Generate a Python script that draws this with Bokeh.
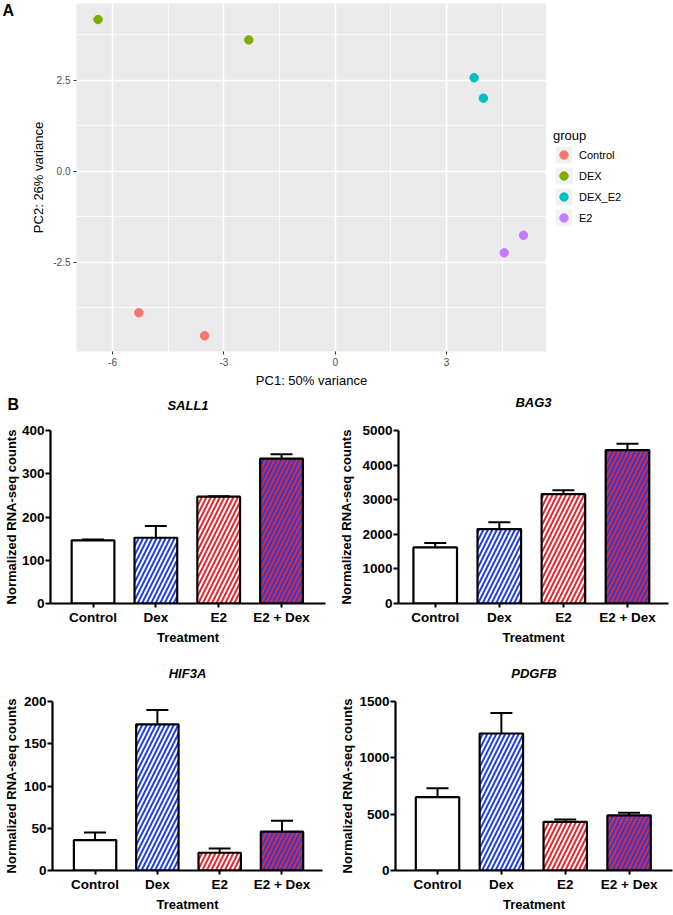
from bokeh.plotting import figure
from bokeh.models import (Range1d, FixedTicker, Legend, LegendItem, Label,
                          ColumnDataSource, Whisker, TeeHead)
from bokeh.layouts import column, row
from bokeh.embed import file_html
from bokeh.resources import INLINE

# ---------------- Panel A data (PCA) ----------------
groups = ["Control", "DEX", "DEX_E2", "E2"]
group_colors = ["#F8766D", "#7CAE00", "#00BFC4", "#C77CFF"]
pc1_control = [-5.29, -3.52]
pc2_control = [-3.89, -4.52]
pc1_dex = [-6.39, -2.33]
pc2_dex = [4.17, 3.61]
pc1_dex_e2 = [3.74, 3.99]
pc2_dex_e2 = [2.57, 2.01]
pc1_e2 = [5.07, 4.55]
pc2_e2 = [-1.76, -2.24]
xA_ticks = [-6, -3, 0, 3]
xA_labels = ["-6", "-3", "0", "3"]
yA_ticks = [-2.5, 0, 2.5]
yA_labels = ["-2.5", "0.0", "2.5"]

# ---------------- Panel B data (bar charts) ----------------
treatments = ["Control", "Dex", "E2", "E2 + Dex"]
sall1_mean = [146, 152, 247, 335]
sall1_sem = [2, 27, 1, 10]
bag3_mean = [1620, 2150, 3160, 4435]
bag3_sem = [125, 195, 115, 180]
hif3a_mean = [36, 173, 21, 46]
hif3a_sem = [9, 17, 5, 13]
pdgfb_mean = [651, 1216, 432, 490]
pdgfb_sem = [78, 182, 20, 23]
sall1_ticks = [0, 100, 200, 300, 400]
bag3_ticks = [0, 1000, 2000, 3000, 4000, 5000]
hif3a_ticks = [0, 50, 100, 150, 200]
pdgfb_ticks = [0, 500, 1000, 1500]

# bar styles
BLUE = "#2040E6"
RED = "#E8262E"
bar_fill = ["white", BLUE, "white", BLUE]
bar_hatch = [" ", "/", "/", "/"]
bar_hatch_color = ["white", "white", RED, RED]

FONT = "Liberation Sans"

# ---------------- Panel A ----------------
xA0, xA1 = -6.97, 5.69
yA0, yA1 = -4.954, 4.611
pA = figure(width=546, height=390, x_range=Range1d(xA0, xA1),
            y_range=Range1d(yA0, yA1), output_backend="svg",
            toolbar_location=None, min_border_left=76, min_border_right=0,
            min_border_top=3, min_border_bottom=35)
pA.background_fill_color = "#EBEBEB"
pA.border_fill_color = "white"
pA.outline_line_color = None

pA.xaxis.ticker = FixedTicker(ticks=xA_ticks, minor_ticks=[-7.5, -4.5, -1.5, 1.5, 4.5])
pA.yaxis.ticker = FixedTicker(ticks=yA_ticks, minor_ticks=[-3.75, -1.25, 1.25, 3.75])
pA.xaxis.major_label_overrides = dict(zip(xA_ticks, xA_labels))
pA.yaxis.major_label_overrides = dict(zip(yA_ticks, yA_labels))
for g in (pA.xgrid, pA.ygrid):
    g.grid_line_color = "white"
    g.grid_line_width = 1.6
    g.minor_grid_line_color = "white"
    g.minor_grid_line_width = 0.8
for ax in (pA.xaxis, pA.yaxis):
    ax.axis_line_color = None
    ax.major_tick_line_color = "#333333"
    ax.major_tick_out = 3
    ax.major_tick_in = 0
    ax.minor_tick_line_color = None
    ax.major_label_text_font = FONT
    ax.major_label_text_font_size = "10px"
    ax.major_label_text_color = "#4D4D4D"
    ax.major_label_standoff = 2
    ax.axis_label_text_font = FONT
    ax.axis_label_text_font_size = "13px"
    ax.axis_label_text_font_style = "normal"
    ax.axis_label_text_color = "black"
    ax.axis_label_standoff = 4
pA.xaxis.axis_label = "PC1: 50% variance"
pA.yaxis.axis_label = "PC2: 26% variance"

pcs = [(pc1_control, pc2_control), (pc1_dex, pc2_dex),
       (pc1_dex_e2, pc2_dex_e2), (pc1_e2, pc2_e2)]
for name, col, (xs, ys) in zip(groups, group_colors, pcs):
    pA.scatter(xs, ys, size=8.5, fill_color=col, line_color=col)
pA.add_layout(Label(x=xA0, y=yA1, x_offset=-74, y_offset=2, text="A",
                    text_font=FONT, text_font_style="bold", text_font_size="16px",
                    text_color="black", text_align="left", text_baseline="top"),
              "left")

# legend in its own small canvas to the right of panel A
pL = figure(width=127, height=390, x_axis_type=None, y_axis_type=None,
            x_range=Range1d(10, 11), y_range=Range1d(10, 11),
            output_backend="svg", toolbar_location=None,
            min_border_left=7, min_border_top=3, min_border_right=0,
            min_border_bottom=35)
pL.outline_line_color = None
pL.grid.visible = False
items = []
for name, col, (xs, ys) in zip(groups, group_colors, pcs):
    bg = pL.rect(x=xs, y=ys, width=1, height=1, fill_color="#F2F2F2", line_color=None)
    r = pL.scatter(xs, ys, size=8.5, fill_color=col, line_color=col)
    items.append(LegendItem(label=name, renderers=[bg, r]))
legend = Legend(items=items, title="group", location=(0, 123),
                border_line_color=None, background_fill_alpha=0,
                title_text_font=FONT, title_text_font_size="13px",
                title_text_font_style="normal", title_text_color="black",
                label_text_font=FONT, label_text_font_size="11px",
                label_text_color="black",
                glyph_width=21, glyph_height=21, label_height=21, spacing=0,
                label_standoff=5, padding=6, margin=0, title_standoff=1)
pL.add_layout(legend)


# ---------------- Panel B ----------------
def bar_panel(title, means, sems, ticks, x_start, x_end, width, height,
              left, right, top, title_off, ylab_standoff, letter=None):
    y_end = ticks[-1]
    p = figure(width=width, height=height, x_range=Range1d(x_start, x_end),
               y_range=Range1d(0, y_end), output_backend="svg",
               toolbar_location=None, min_border_left=left, min_border_right=right,
               min_border_top=top, min_border_bottom=0)
    p.outline_line_color = None
    p.background_fill_color = "white"
    p.grid.grid_line_color = None
    src = ColumnDataSource(dict(
        x=list(range(len(treatments))), mean=means,
        upper=[m + s for m, s in zip(means, sems)],
        fill=bar_fill, hatch=bar_hatch, hcolor=bar_hatch_color))
    p.vbar(x="x", top="mean", width=0.68, source=src, fill_color="fill",
           hatch_pattern="hatch", hatch_color="hcolor", hatch_scale=9,
           hatch_weight=2, line_color="black", line_width=2.2)
    p.add_layout(Whisker(source=src, base="x", lower="mean", upper="upper",
                         line_color="black", line_width=2, lower_head=None,
                         upper_head=TeeHead(size=22, line_width=2, line_color="black"),
                         level="overlay"))

    p.xaxis.ticker = FixedTicker(ticks=list(range(len(treatments))))
    p.xaxis.major_label_overrides = {i: t for i, t in enumerate(treatments)}
    p.yaxis.ticker = FixedTicker(ticks=ticks)
    for ax in (p.xaxis, p.yaxis):
        ax.axis_line_color = "black"
        ax.axis_line_width = 2.2
        ax.major_tick_line_color = "black"
        ax.major_tick_line_width = 2
        ax.major_tick_in = 0
        ax.minor_tick_line_color = None
        ax.major_label_text_font = FONT
        ax.major_label_text_font_style = "bold"
        ax.major_label_text_color = "black"
        ax.axis_label_text_font = FONT
        ax.axis_label_text_font_style = "bold"
        ax.axis_label_text_font_size = "13px"
        ax.axis_label_text_color = "black"
    p.xaxis.major_tick_out = 4
    p.yaxis.major_tick_out = 5
    p.xaxis.major_label_text_font_size = "13.5px"
    p.yaxis.major_label_text_font_size = "13.5px"
    p.xaxis.major_label_standoff = 2
    p.yaxis.major_label_standoff = 1
    p.xaxis.axis_label = "Treatment"
    p.xaxis.axis_label_standoff = 2
    p.yaxis.axis_label = "Normalized RNA-seq counts"
    p.yaxis.axis_label_standoff = ylab_standoff

    # gene title above the frame
    p.add_layout(Label(x=(x_start + x_end) / 2, y=y_end, y_offset=title_off,
                       text=title, text_font=FONT, text_font_style="bold italic",
                       text_font_size="13px", text_color="black",
                       text_align="center", text_baseline="middle"), "above")
    if letter:
        p.add_layout(Label(x=x_start, y=y_end, x_offset=2 - left, y_offset=35,
                           text=letter, text_font=FONT, text_color="black",
                           text_font_style="bold", text_font_size="16px",
                           text_align="left", text_baseline="top"), "above")
    return p


p1 = bar_panel("SALL1", sall1_mean, sall1_sem, sall1_ticks, -0.677, 3.70,
               336, 257, 45, 11, 40, 25, 0, letter="B")
p2 = bar_panel("BAG3", bag3_mean, bag3_sem, bag3_ticks, -0.573, 3.64,
               337, 257, 62, 5, 40, 28, 5)
p3 = bar_panel("HIF3A", hif3a_mean, hif3a_sem, hif3a_ticks, -0.683, 3.65,
               336, 267, 47, 14, 54, 28, 2)
p4 = bar_panel("PDGFB", pdgfb_mean, pdgfb_sem, pdgfb_ticks, -0.658, 3.68,
               337, 267, 59, 1, 54, 28, 1)

layout = column(row(pA, pL), row(p1, p2), row(p3, p4))
open("out.html", "w").write(file_html(layout, INLINE))
